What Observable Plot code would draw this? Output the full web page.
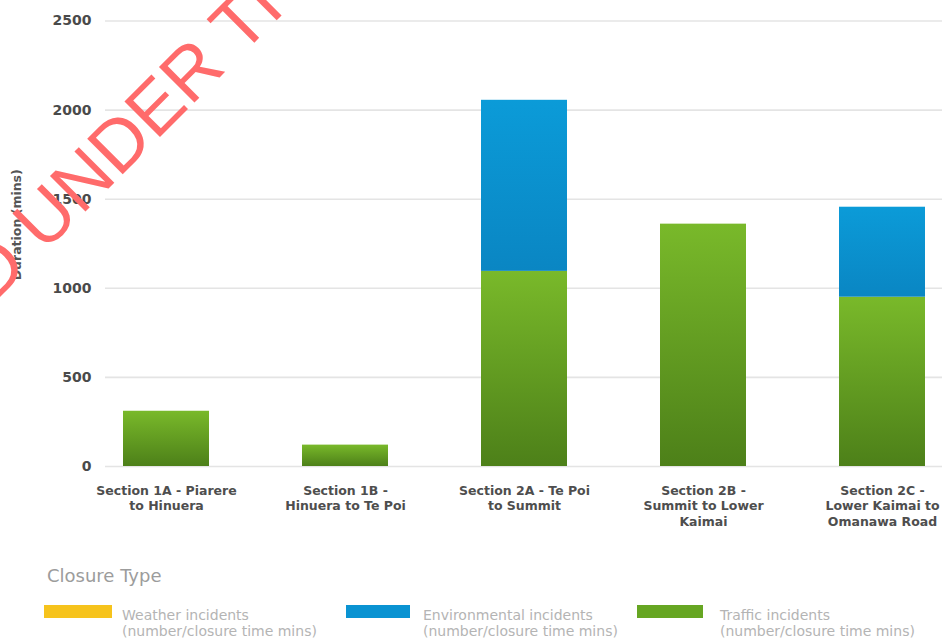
<!DOCTYPE html>
<html>
<head>
<meta charset="utf-8">
<script src="https://cdn.jsdelivr.net/npm/d3@7"></script>
<script src="https://cdn.jsdelivr.net/npm/@observablehq/plot@0.6"></script>
<style>
  html, body { margin: 0; padding: 0; background: #fff; }
  body { width: 942px; height: 644px; position: relative; overflow: hidden; font-family: "DejaVu Sans", sans-serif; }
  #chart { position: absolute; left: 0; top: 0; }
  .legend-title { position: absolute; left: 47px; top: 565px; font-size: 18px; color: #9c9c9c; }
  .sw { position: absolute; top: 605px; height: 13px; }
  .lt { position: absolute; top: 607px; font-size: 14px; line-height: 16px; color: #b4b4b4; white-space: pre; }
  #wm { position: absolute; left: 0; top: 0; pointer-events: none; }
</style>
</head>
<body>
<div id="chart"></div>
<div id="legend"></div>
<svg id="wm" width="942" height="644"></svg>
<script>
// ---- data ----
const sections = [
  "Section 1A - Piarere to Hinuera",
  "Section 1B - Hinuera to Te Poi",
  "Section 2A - Te Poi to Summit",
  "Section 2B - Summit to Lower Kaimai",
  "Section 2C - Lower Kaimai to Omanawa Road"
];
const tickLabels = [
  "Section 1A - Piarere\nto Hinuera",
  "Section 1B -\nHinuera to Te Poi",
  "Section 2A - Te Poi\nto Summit",
  "Section 2B -\nSummit to Lower\nKaimai",
  "Section 2C -\nLower Kaimai to\nOmanawa Road"
];
const closureTypes = ["Weather incidents", "Environmental incidents", "Traffic incidents"];
const legendLabels = [
  "Weather incidents\n(number/closure time mins)",
  "Environmental incidents\n(number/closure time mins)",
  "Traffic incidents\n(number/closure time mins)"
];
const closureColors = ["#f6c31c", "#0a93d2", "#66a622"];
const weatherMins = [0, 0, 0, 0, 0];
const environmentalMins = [0, 0, 960, 0, 505];
const trafficMins = [310, 120, 1095, 1360, 950];
const yTicks = [0, 500, 1000, 1500, 2000, 2500];
const yLabel = "Duration (mins)";
const legendTitle = "Closure Type";
const watermarkBefore = "RELEASED";
const watermarkAfter = "UNDER THE OFFICIAL INFORMATION ACT";

// ---- table (stack order: traffic bottom, environmental, weather) ----
const rows = [];
sections.forEach((s, i) => rows.push({section: s, type: closureTypes[2], mins: trafficMins[i]}));
sections.forEach((s, i) => rows.push({section: s, type: closureTypes[1], mins: environmentalMins[i]}));
sections.forEach((s, i) => rows.push({section: s, type: closureTypes[0], mins: weatherMins[i]}));

const chart = Plot.plot({
  width: 942,
  height: 540,
  marginTop: 20.5,
  marginBottom: 74,
  marginLeft: 105,
  marginRight: 0,
  style: {fontFamily: "DejaVu Sans, sans-serif", background: "transparent"},
  x: {domain: sections, paddingInner: 0.52, paddingOuter: 0.09, label: null},
  y: {domain: [0, 2500], label: null},
  color: {domain: closureTypes, range: ["url(#gw)", "url(#ge)", "url(#gt)"]},
  marks: [
    Plot.gridY(yTicks, {stroke: "#e4e4e4", strokeOpacity: 1, strokeWidth: 1.6}),
    Plot.axisY(yTicks, {tickSize: 0, tickPadding: 14, fontSize: 14, fontWeight: "bold", fill: "#4a4a4a",
      tickFormat: (d) => String(d), label: null}),
    Plot.axisX({tickSize: 0, tickPadding: 17, fontSize: 12.5, fontWeight: "bold", fill: "#4e4e4e", lineHeight: 1.25,
      tickFormat: (d) => tickLabels[sections.indexOf(d)], label: null}),
    Plot.barY(rows, Plot.stackY({x: "section", y: "mins", fill: "type", order: null})),
    Plot.text([yLabel], {frameAnchor: "left", textAnchor: "middle", dx: -89, dy: -19, rotate: -90,
      fontSize: 12.5, fontWeight: "bold", fill: "#555"})
  ]
});

const svgEl = chart.tagName.toLowerCase() === "svg" ? chart : chart.querySelector("svg");
svgEl.insertAdjacentHTML("afterbegin", `
<defs>
  <linearGradient id="gt" x1="0" y1="0" x2="0" y2="1">
    <stop offset="0" stop-color="#79b92a"/><stop offset="1" stop-color="#4d8019"/>
  </linearGradient>
  <linearGradient id="ge" x1="0" y1="0" x2="0" y2="1">
    <stop offset="0" stop-color="#0b9bd8"/><stop offset="1" stop-color="#0a86c3"/>
  </linearGradient>
  <linearGradient id="gw" x1="0" y1="0" x2="0" y2="1">
    <stop offset="0" stop-color="#f8c720"/><stop offset="1" stop-color="#eab010"/>
  </linearGradient>
</defs>`);
document.getElementById("chart").appendChild(chart);

// ---- legend ----
const legend = document.getElementById("legend");
const swX = [44, 346, 637];
const swW = [68, 64, 66];
const txX = [122, 423, 720];
legend.insertAdjacentHTML("beforeend", `<div class="legend-title">${legendTitle}</div>`);
closureTypes.forEach((t, i) => {
  legend.insertAdjacentHTML("beforeend",
    `<div class="sw" style="left:${swX[i]}px;width:${swW[i]}px;background:${closureColors[i]}"></div>` +
    `<div class="lt" style="left:${txX[i]}px">${legendLabels[i]}</div>`);
});

// ---- watermark ----
const wm = document.getElementById("wm");
const wx = 44, wy = 253, ang = -45;
wm.innerHTML = `
<g transform="rotate(${ang} ${wx} ${wy})" font-family="Liberation Sans, sans-serif" font-size="73" fill="#ff6b6b">
  <text x="${wx - 20}" y="${wy}" text-anchor="end">${watermarkBefore}</text>
  <text x="${wx}" y="${wy}">${watermarkAfter}</text>
</g>`;
</script>
</body>
</html>
